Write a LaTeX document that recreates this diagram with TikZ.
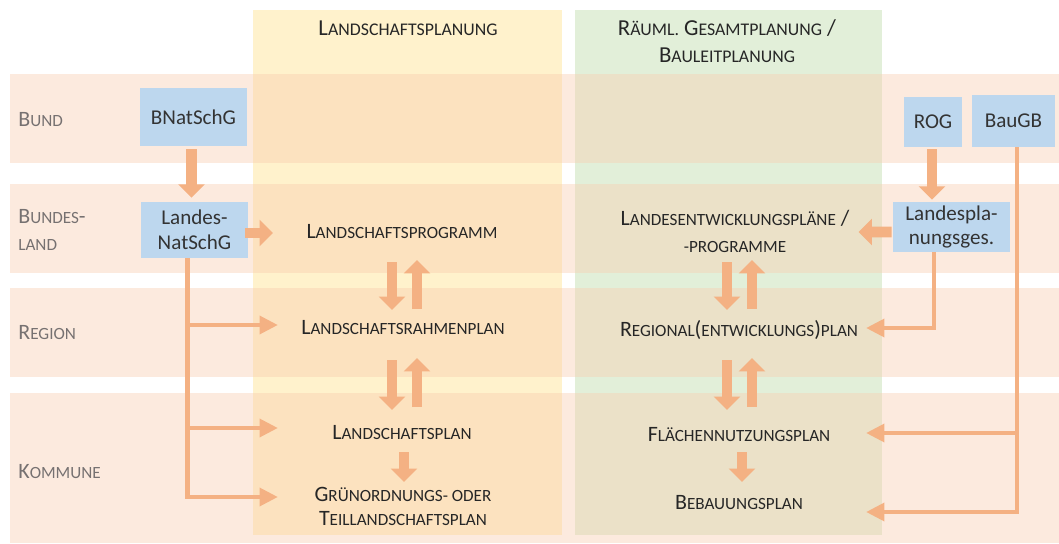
\documentclass[tikz,border=0pt]{standalone}
\usepackage{fontspec}
\setmainfont{Carlito}
\usetikzlibrary{arrows.meta,calc}

\definecolor{bandfill}{HTML}{F8CBAD}
\definecolor{lpfill}{HTML}{FFE699}
\definecolor{rgfill}{HTML}{C5E0B4}
\definecolor{lawfill}{HTML}{BDD7EE}
\definecolor{arrowfill}{HTML}{F4B183}
\definecolor{levelgray}{HTML}{767171}

\makeatletter
\newcommand{\klein}[1]{{\fontsize{\fpeval{0.78*\f@size}}{\f@baselineskip}\selectfont #1}}
\makeatother

\tikzset{
	band/.style={fill=bandfill, fill opacity=0.4},
	column/.style={fill=#1, fill opacity=0.5},
	lawbox/.style={fill=lawfill, text=black!80, font=\fontsize{12}{14}\selectfont, align=center, inner sep=0pt},
	plantext/.style={text=black!85, font=\fontsize{12.5}{15.3}\selectfont, align=center, inner sep=0pt},
	headtext/.style={plantext, font=\fontsize{13}{15.3}\selectfont},
	levellabel/.style={text=levelgray, font=\fontsize{12.5}{15.3}\selectfont, align=left, anchor=west, inner sep=0pt},
	bigarrow/.style={draw=arrowfill, line width=6.2pt, -{Triangle[width=14.7pt,length=7.6pt]}},
	thinarrow/.style={draw=arrowfill, line width=2.6pt, -{Triangle[width=10pt,length=10.5pt]}},
}

\begin{document}
\begin{tikzpicture}[x=0.02cm,y=-0.02cm]
	\useasboundingbox (0,0) rectangle (1059,544);

	\fill[column=lpfill] (253,10) rectangle (562,535);
	\fill[column=rgfill] (575,10) rectangle (882,535);
	\fill[band] (10,74) rectangle (1059,163);
	\fill[band] (10,184) rectangle (1059,273);
	\fill[band] (10,288) rectangle (1059,377);
	\fill[band] (10,393) rectangle (1059,543);

	\node[levellabel] (bund) at (18,120) {B\klein{UND}};
	\node[levellabel] (bundesland) at (18,230) {B\klein{UNDES}-\\\klein{LAND}};
	\node[levellabel] (region) at (18,333) {R\klein{EGION}};
	\node[levellabel] (kommune) at (18,472) {K\klein{OMMUNE}};

	\node[headtext] (hdlp) at (408,28) {L\klein{ANDSCHAFTSPLANUNG}};
	\node[headtext] (hdrg) at (727,41.5) {R\klein{ÄUML.} G\klein{ESAMTPLANUNG} /\\B\klein{AULEITPLANUNG}};

	\node[plantext] (lprog) at (402,232) {L\klein{ANDSCHAFTSPROGRAMM}};
	\node[plantext] (lrahm) at (403,328) {L\klein{ANDSCHAFTSRAHMENPLAN}};
	\node[plantext] (lsp) at (402,433) {L\klein{ANDSCHAFTSPLAN}};
	\node[plantext] (gruen) at (403,506) {G\klein{RÜNORDNUNGS- ODER}\\[-1.7pt]T\klein{EILLANDSCHAFTSPLAN}};

	\node[plantext] (lep) at (735,231.5) {L\klein{ANDESENTWICKLUNGSPLÄNE} /\\\klein{-PROGRAMME}};
	\node[plantext] (reg) at (739,330) {R\klein{EGIONAL}(\klein{ENTWICKLUNGS})\klein{PLAN}};
	\node[plantext] (fnp) at (739,435) {F\klein{LÄCHENNUTZUNGSPLAN}};
	\node[plantext] (bebau) at (739,503) {B\klein{EBAUUNGSPLAN}};

	\node[lawbox, minimum width=2.14cm, minimum height=1.16cm] (bnat) at (193.5,117) {BNatSchG};
	\node[lawbox, minimum width=2.14cm, minimum height=1.12cm] (lnat) at (194.5,230) {Landes-\\NatSchG};
	\node[lawbox, minimum width=1.16cm, minimum height=1.0cm] (rog) at (933,122) {ROG};
	\node[lawbox, minimum width=1.66cm, minimum height=1.04cm] (baugb) at (1013.5,121) {BauGB};
	\node[lawbox, minimum width=2.34cm, minimum height=1.0cm] (lpg) at (951.5,227) {Landespla-\\nungsges.};

	\coordinate (lin) at (278,0);
	\coordinate (rin) at (866,0);

	\draw[bigarrow] ($(bnat.south)+(-2,3)$) -- ($(lnat.north)+(-3,-4)$);
	\draw[bigarrow] ($(lnat.east)+(-3,3)$) -- ($(lin |- lprog.west)+(-5,1)$);
	\draw[bigarrow] ($(lrahm.center |- lprog.center)+(-11,30)$) -- ($(lrahm.center)+(-11,-18)$);
	\draw[bigarrow] ($(lrahm.center)+(14,-19)$) -- ($(lrahm.center |- lprog.center)+(14,28)$);
	\draw[bigarrow] ($(lrahm.center)+(-11,32)$) -- ($(lrahm.center |- lsp.center)+(-11,-23)$);
	\draw[bigarrow] ($(lrahm.center |- lsp.center)+(14,-26)$) -- ($(lrahm.center)+(14,30)$);
	\draw[bigarrow] ($(lsp.center)+(2,19)$) -- ($(lsp.center |- gruen.center)+(2,-24)$);

	\draw[bigarrow] ($(rog.south)+(-1,2)$) -- ($(rog.south |- lpg.north)+(-1,-2)$);
	\draw[bigarrow] ($(lpg.west)+(-1,5)$) -- ($(lep.east)+(9,0.5)$);
	\draw[bigarrow] ($(reg.center |- lep.center)+(-12,30.5)$) -- ($(reg.center)+(-12,-20)$);
	\draw[bigarrow] ($(reg.center)+(13,-21)$) -- ($(reg.center |- lep.center)+(13,28.5)$);
	\draw[bigarrow] ($(reg.center)+(-12,30)$) -- ($(reg.center |- fnp.center)+(-12,-25)$);
	\draw[bigarrow] ($(reg.center |- fnp.center)+(13,-28)$) -- ($(reg.center)+(13,28)$);
	\draw[bigarrow] ($(fnp.center)+(3,17)$) -- ($(fnp.center |- bebau.center)+(3,-21)$);

	\draw[thinarrow] ($(lnat.south)+(-7,0)$) |- ($(lin |- gruen.center)+(0,-9)$);
	\draw[thinarrow] ($(lnat.south |- lrahm.center)+(-7,-3)$) -- ($(lin |- lrahm.center)+(0,-3)$);
	\draw[thinarrow] ($(lnat.south |- lsp.center)+(-7,-5)$) -- ($(lin |- lsp.center)+(0,-5)$);

	\draw[thinarrow] ($(lpg.south)+(-17.5,0)$) |- ($(rin |- reg.center)+(0,-2)$);
	\draw[thinarrow] ($(baugb.south)+(3.5,0)$) |- ($(rin |- bebau.center)+(0,9)$);
	\draw[thinarrow] ($(baugb.south |- fnp.center)+(3.5,-2)$) -- ($(rin |- fnp.center)+(0,-2)$);
\end{tikzpicture}
\end{document}
